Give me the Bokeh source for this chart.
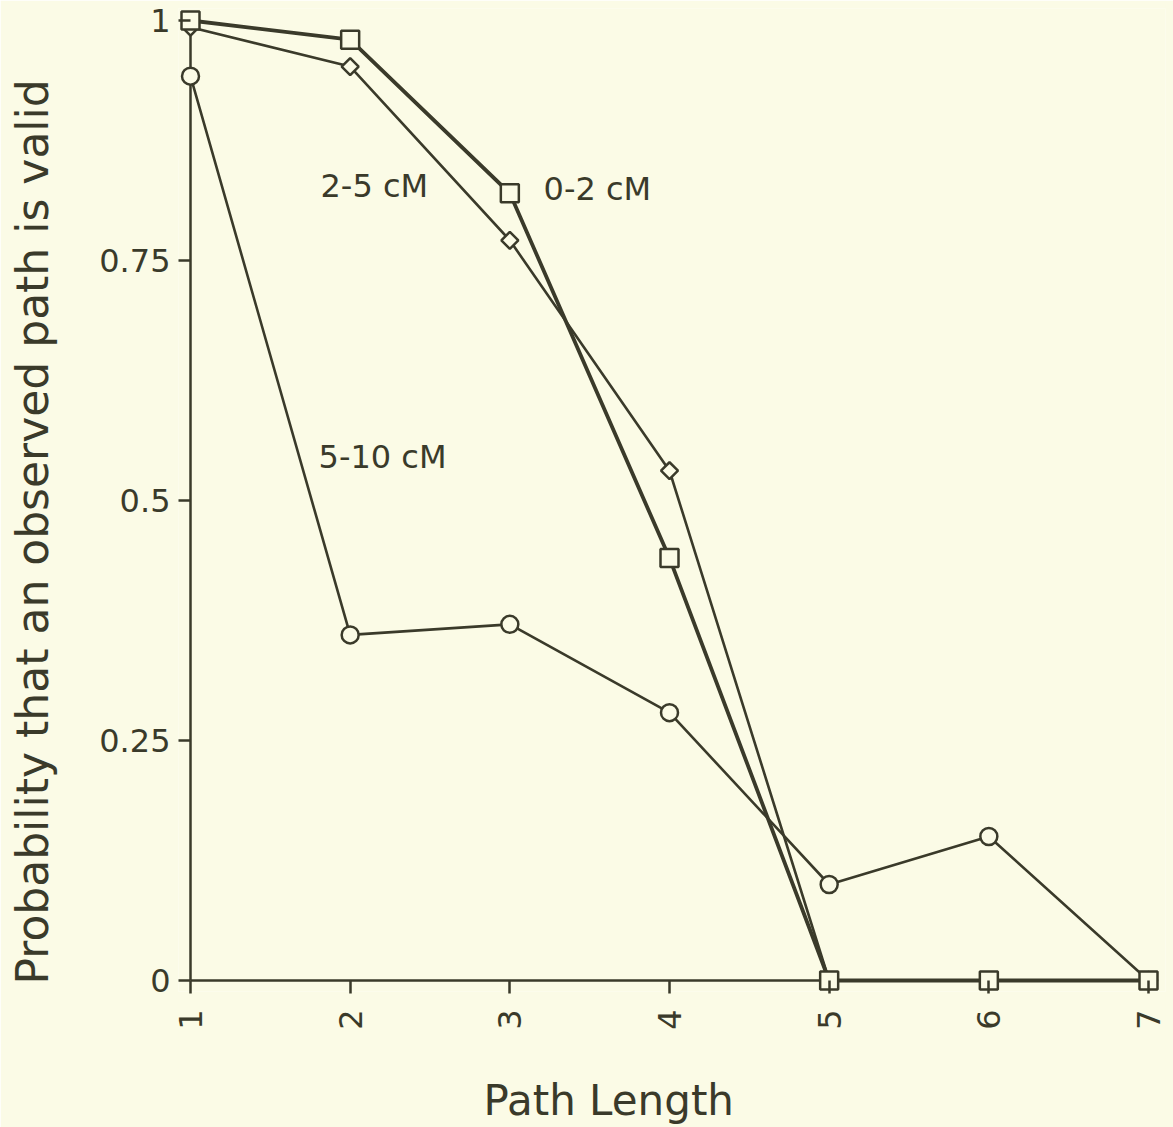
import numpy as np
from bokeh.plotting import figure
from bokeh.models import Range1d, Label, FixedTicker, Title
from bokeh.embed import file_html
from bokeh.resources import INLINE

# ---- data ----
path_length = [1, 2, 3, 4, 5, 6, 7]
p_0_2 = [1.0, 0.98, 0.82, 0.44, 0.0, 0.0, 0.0]
p_2_5 = [0.993, 0.952, 0.771, 0.531, 0.0, 0.0, 0.0]
p_5_10 = [0.942, 0.36, 0.371, 0.279, 0.10, 0.15, 0.0]
y_ticks = [0, 0.25, 0.5, 0.75, 1]
y_tick_labels = ["0", "0.25", "0.5", "0.75", "1"]
x_ticks = [1, 2, 3, 4, 5, 6, 7]
series_labels = ["0-2 cM", "2-5 cM", "5-10 cM"]
x_title = "Path Length"
y_title = "Probability that an observed path is valid"

BG = "#fbfbe6"
INK = "#3a3a2a"
FONT = "DejaVu Sans"

p = figure(width=1173, height=1127, output_backend="svg", toolbar_location=None,
           x_range=Range1d(0.92484, 7.10647), y_range=Range1d(-0.011458, 1.0125),
           min_border_left=178, min_border_right=8, min_border_top=8,
           min_border_bottom=136)
p.background_fill_color = BG
p.border_fill_color = BG
p.outline_line_color = None
p.grid.visible = False

for ax in (p.xaxis[0], p.yaxis[0]):
    ax.axis_line_color = None
    ax.major_tick_line_color = INK
    ax.major_tick_line_width = 2.5
    ax.minor_tick_line_color = None
    ax.major_label_text_color = INK
    ax.major_label_text_font = FONT
    ax.major_label_text_font_style = "normal"
    # blank axis label used only as spacing before the title
    ax.axis_label = " "
    ax.axis_label_text_font_size = "20px"

xa = p.xaxis[0]
xa.ticker = FixedTicker(ticks=x_ticks)
xa.major_tick_in = 11
xa.major_tick_out = 2
xa.major_label_orientation = np.pi / 2
xa.major_label_text_font_size = "32px"
xa.major_label_standoff = 16
xa.axis_label_standoff = 16

ya = p.yaxis[0]
ya.ticker = FixedTicker(ticks=y_ticks)
ya.major_tick_in = 12
ya.major_tick_out = 0
ya.major_label_overrides = {float(t): s for t, s in zip(y_ticks, y_tick_labels)}
ya.major_label_text_font_size = "32px"
ya.major_label_standoff = 8
ya.axis_label_standoff = 14

# axis lines at x = 1 and y = 0, spanning the tick bounds
p.segment(x0=[x_ticks[0], x_ticks[0]], y0=[y_ticks[0], y_ticks[0]],
          x1=[x_ticks[-1], x_ticks[0]], y1=[y_ticks[0], y_ticks[-1]],
          line_color=INK, line_width=2.5)

p.line(path_length, p_5_10, line_color=INK, line_width=2.6)
p.line(path_length, p_2_5, line_color=INK, line_width=2.6)
p.line(path_length, p_0_2, line_color=INK, line_width=3.8)

p.scatter(path_length, p_5_10, marker="circle", size=17, fill_color=BG,
          line_color=INK, line_width=2.5)
p.scatter(path_length, p_2_5, marker="square", angle=np.pi / 4, size=12,
          fill_color=BG, line_color=INK, line_width=2.5)
p.scatter(path_length, p_0_2, marker="square", size=18, fill_color=BG,
          line_color=INK, line_width=2.5)

for txt, lx, ly in [(series_labels[0], 3.211, 0.825),
                    (series_labels[1], 1.814, 0.828),
                    (series_labels[2], 1.802, 0.545)]:
    p.add_layout(Label(x=lx, y=ly, text=txt, text_font=FONT, text_font_size="32px",
                       text_color=INK, text_baseline="middle", text_align="left"))

p.add_layout(Title(text=x_title, text_font=FONT, text_font_size="42px",
                   text_font_style="normal", text_color=INK,
                   align="left", offset=305, standoff=0), "below")
p.add_layout(Title(text=y_title, text_font=FONT, text_font_size="44px",
                   text_font_style="normal", text_color=INK,
                   align="left", offset=7, standoff=0), "left")

open("out.html", "w").write(file_html(p, INLINE))
